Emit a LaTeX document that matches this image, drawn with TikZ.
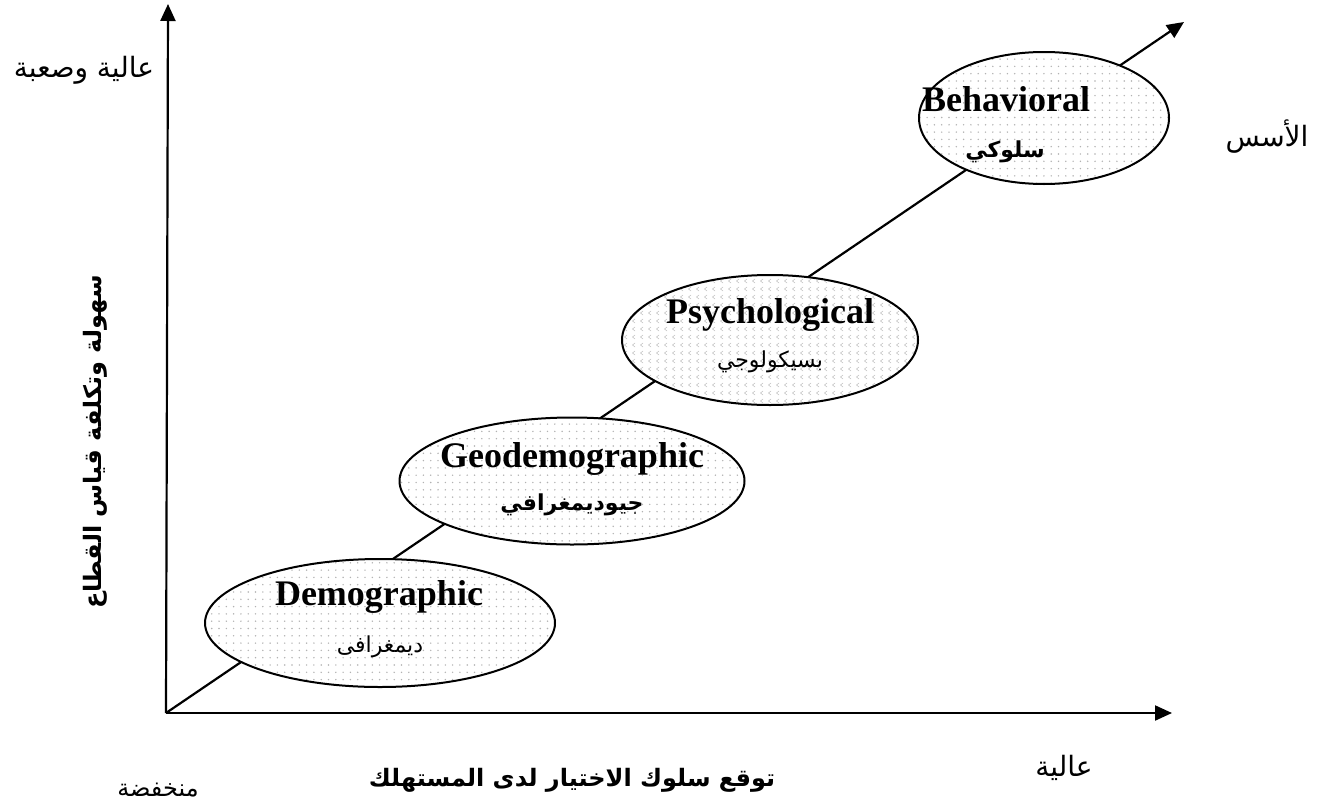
\documentclass[tikz,border=0pt]{standalone}
\usepackage{fontspec}
\setmainfont{Liberation Serif}
\newfontfamily\arabicfont[Script=Arabic]{DejaVu Sans}
\TeXXeTstate=1
\usetikzlibrary{arrows.meta,shapes.geometric,patterns.meta}

% light dot texture for the segmentation bases
\tikzdeclarepattern{
  name=softdots, type=uncolored,
  bounding box={(-1pt,-1pt) and (8.3pt,8.3pt)},
  tile size={(7.3pt,7.3pt)},
  code={\fill (0pt,0pt) circle (0.8pt);}
}
% small chevron texture
\tikzdeclarepattern{
  name=chevrons, type=uncolored,
  bounding box={(-1pt,-1pt) and (9pt,9pt)},
  tile size={(8pt,8pt)},
  code={\draw[line width=0.6pt] (3pt,0pt) -- (0.5pt,2pt) -- (3pt,4pt);}
}

\tikzset{
  axis/.style={line width=2.2pt, -{Triangle[length=17pt,width=15pt]}},
  basis/.style={ellipse, draw, line width=2pt, inner sep=0pt,
    preaction={fill=white}, pattern={softdots}, pattern color=black!30,
    align=center},
  latinlbl/.style={font=\fontsize{36}{40}\selectfont\bfseries},
  arlbl/.style={font=\arabicfont\fontsize{22}{26}\selectfont},
  arbold/.style={font=\arabicfont\fontsize{22}{26}\selectfont\bfseries},
  arcap/.style={font=\arabicfont\fontsize{28}{32}\selectfont},
  arcapbold/.style={font=\arabicfont\fontsize{24}{28}\selectfont\bfseries},
}

\begin{document}
\begin{tikzpicture}[x=1pt,y=-1pt]
\useasboundingbox (0,0) rectangle (1321,811);

% axes and the diagonal trend
\coordinate (O) at (166,713);
\coordinate (ytip) at (168,4);
\coordinate (xtip) at (1172,713);
\coordinate (dtip) at (1184,22);
\draw[axis] (O) -- (ytip);
\draw[axis] (O) -- (xtip);
\draw[axis] (O) -- (dtip);

% segmentation bases
\node[basis, minimum width=350, minimum height=128] (demo) at (380,623) {};
\node[basis, minimum width=345, minimum height=127] (geo) at (572,481) {};
\node[basis, minimum width=296, minimum height=130, pattern={chevrons}, pattern color=black!22] (psy) at (770,340) {};
\node[basis, minimum width=250, minimum height=132] (beh) at (1044,118) {};

% labels inside the bases
\node[latinlbl] (demoEn) at (379,597) {Demographic};
\node[arlbl] (demoAr) at (380,647) {\beginR ديمغرافى\endR};
\node[latinlbl] (geoEn) at (572,459) {Geodemographic};
\node[arbold] (geoAr) at (572,505) {\beginR جيوديمغرافي\endR};
\node[latinlbl] (psyEn) at (770,315) {Psychological};
\node[arlbl] (psyAr) at (770,362) {\beginR بسيكولوجي\endR};
\node[latinlbl] (behEn) at (1006,99) {Behavioral};
\node[arbold] (behAr) at (1005,152) {\beginR سلوكي\endR};

% axis captions
\node[arcap] (ytop) at (84,70) {\beginR عالية وصعبة\endR};
\node[arcapbold, rotate=90] (ylab) at (95,442) {\beginR سهولة وتكلفة قياس القطاع\endR};
\node[arcap] (basesLbl) at (1267,137) {\beginR الأسس\endR};
\node[arcap, font=\arabicfont\fontsize{24}{28}\selectfont] (xlow) at (158,790) {\beginR منخفضة\endR};
\node[arcapbold] (xlab) at (572,780) {\beginR توقع سلوك الاختيار لدى المستهلك\endR};
\node[arcap] (xhigh) at (1064,768) {\beginR عالية\endR};
\end{tikzpicture}
\end{document}
